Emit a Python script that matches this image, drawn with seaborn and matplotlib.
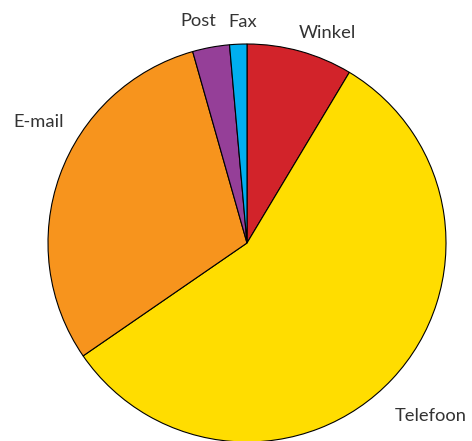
import matplotlib
matplotlib.use("Agg")
import matplotlib.pyplot as plt
import seaborn as sns
import numpy as np

sns.set_theme(style="white")
plt.rcParams['font.family'] = ['Lato', 'DejaVu Sans']

# data (percent share per channel)
channels = ['Winkel', 'Telefoon', 'E-mail', 'Post', 'Fax']
shares = [8.6, 56.8, 30.2, 3.0, 1.4]
colors = ['#D2232A', '#FFDD00', '#F7941D', '#953F98', '#00AEEF']

# label placement tweaks (distance in radii, angle offset in degrees clockwise)
label_dist = [1.13, 1.27, 1.21, 1.14, 1.11]
label_shift = [5.5, 0.0, 10.5, -2.0, 1.3]

fig = plt.figure(figsize=(4.72, 4.41), dpi=100)
r_px = 199
cx, cy = 247, 441 - 243
ax = fig.add_axes([(cx - r_px) / 472, (cy - r_px) / 441, 2 * r_px / 472, 2 * r_px / 441])

wedges, _ = ax.pie(shares, colors=colors, startangle=90, counterclock=False,
                   wedgeprops=dict(edgecolor='black', linewidth=0.8))
ax.set_xlim(-1, 1)
ax.set_ylim(-1, 1)
ax.set_aspect('equal')
ax.axis('off')

for w, name, d, s in zip(wedges, channels, label_dist, label_shift):
    mid = np.deg2rad((w.theta1 + w.theta2) / 2 - s)
    ax.text(d * np.cos(mid), d * np.sin(mid), name, ha='center', va='center',
            fontsize=13.2, color='#333333', clip_on=False)

for w in wedges:
    w.set_clip_on(False)

fig.savefig('out.png', dpi=100, facecolor='white')
